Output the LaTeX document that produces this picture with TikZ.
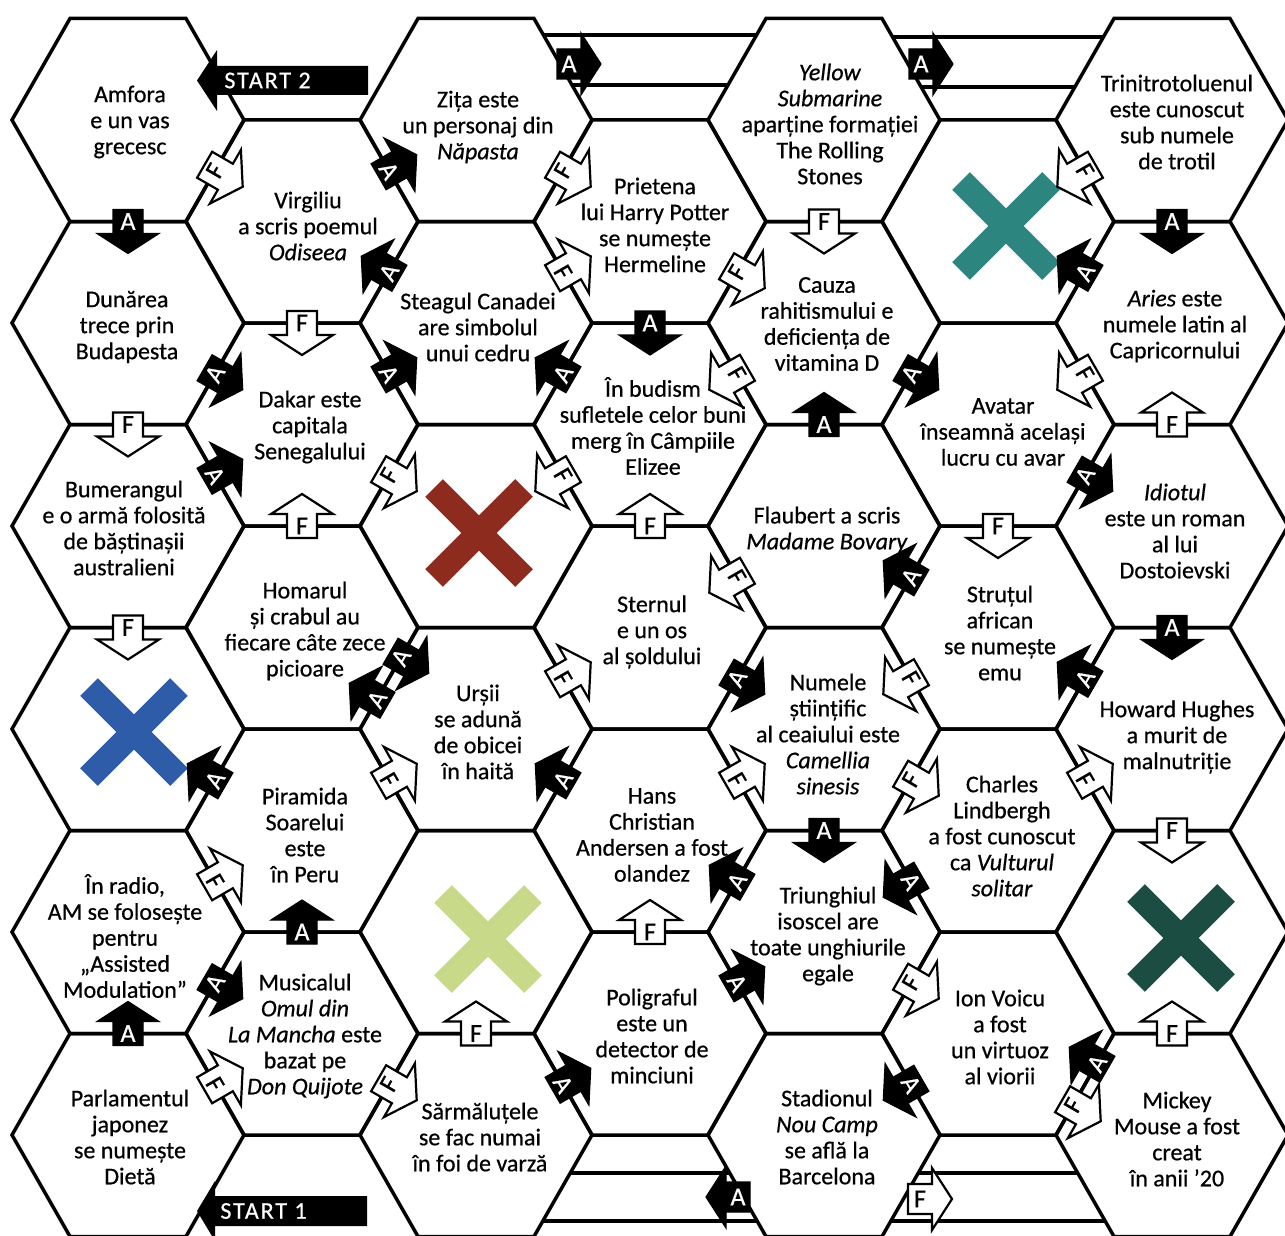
\documentclass[tikz,border=0pt]{standalone}
\usepackage{fontspec}
\setmainfont{Carlito}[FakeBold=0.6]
\usetikzlibrary{calc}
\definecolor{xblue}{HTML}{2F5CA8}
\definecolor{xred}{HTML}{8E2B1F}
\definecolor{xlime}{HTML}{C8D98A}
\definecolor{xteal}{HTML}{2D8580}
\definecolor{xdkgreen}{HTML}{1B4D42}
\tikzset{
 hexline/.style={draw=black, line width=1.75pt, line join=miter},
 bridgeline/.style={draw=black, line width=1.6pt},
 Abox/.style={fill=black, draw=black, line width=0.6pt},
 Fbox/.style={fill=white, draw=black, line width=1.1pt},
 Alet/.style={text=white, font=\fontsize{13}{13}\selectfont, inner sep=0pt},
 Flet/.style={text=black, font=\fontsize{13}{13}\selectfont, inner sep=0pt},
 qtext/.style={align=center, font=\fontsize{12}{13}\selectfont, inner sep=0pt},
 xbar/.style={line width=12.5pt, line cap=butt},
 startarr/.style={fill=black},
 starttext/.style={text=white, font=\fontsize{12}{12}\selectfont\addfontfeature{LetterSpace=8}, inner sep=0pt, anchor=west},
}
\newcommand\hexat[1]{\draw[hexline] ($(#1)+(116,0)$) -- ++(-58,-101.5) -- ++(-116,0) -- ++(-58,101.5) -- ++(58,101.5) -- ++(116,0) -- cycle;}
\newcommand\tfarrow[5]{%
 \begin{scope}[shift={#3}, rotate=#4]
  \path[#1box] (-12,-15) -- (12,-15) -- (12,-31) -- (32,0) -- (12,31) -- (12,15) -- (-12,15) -- cycle;
 \end{scope}
 \node[#1let, rotate=#5] (#2) at #3 {#1};
}
\newcommand\bigx[2]{%
 \draw[xbar,#2] ($(#1)+(-45,-45)$) -- ($(#1)+(45,45)$);
 \draw[xbar,#2] ($(#1)+(-45,45)$) -- ($(#1)+(45,-45)$);
}
\begin{document}
\begin{tikzpicture}[x=0.5pt,y=-0.5pt]
\useasboundingbox (0,0) rectangle (1285,1236);
\clip (0,0) rectangle (1285,1236);
\fill[white] (0,0) rectangle (1285,1236);
% hex centres
\foreach \c/\x in {0/128,2/476,4/824,6/1172}{
  \foreach \r/\y in {0/120,1/323,2/526,3/729,4/932,5/1135}{
    \coordinate (h\c\r) at (\x,\y);
    \hexat{h\c\r}
  }
}
\foreach \c/\x in {1/302,3/650,5/998}{
  \foreach \r/\y in {0/221.5,1/424.5,2/627.5,3/830.5,4/1033.5}{
    \coordinate (h\c\r) at (\x,\y);
    \hexat{h\c\r}
  }
}
% bridges
\draw[bridgeline] (543.4,35) -- (756.6,35);
\draw[bridgeline] (572,85) -- (728,85);
\draw[bridgeline] (892.6,37) -- (1103.4,37);
\draw[bridgeline] (921,87) -- (1075,87);
\draw[bridgeline] (570.3,1173) -- (729.7,1173);
\draw[bridgeline] (542.9,1221) -- (757.1,1221);
\draw[bridgeline] (918.3,1173) -- (1077.7,1173);
\draw[bridgeline] (890.9,1221) -- (1105.1,1221);
% crosses
\coordinate (xb) at (134,732);
\coordinate (xr) at (479,533);
\coordinate (xl) at (488,939);
\coordinate (xt) at (1006,226);
\coordinate (xd) at (1181,938);
\bigx{xb}{xblue}
\bigx{xr}{xred}
\bigx{xl}{xlime}
\bigx{xt}{xteal}
\bigx{xd}{xdkgreen}
% texts
\node[qtext] (t00) at (130,122) {Amfora\\e un vas\\grecesc};
\node[qtext] (t10) at (308,226) {Virgiliu\\a scris poemul\\\textit{Odiseea}};
\node[qtext] (t20) at (478,127) {Zița este\\un personaj din\\\textit{Năpasta}};
\node[qtext] (t30) at (655,225) {Prietena\\lui Harry Potter\\se numește\\Hermeline};
\node[qtext] (t40) at (830,124) {\textit{Yellow}\\\textit{Submarine}\\aparține formației\\The Rolling\\Stones};
\node[qtext] (t60) at (1177,122) {Trinitrotoluenul\\este cunoscut\\sub numele\\de trotil};
\node[qtext] (t01) at (127,327) {Dunărea\\trece prin\\Budapesta};
\node[qtext] (t11) at (310,427) {Dakar este\\capitala\\Senegalului};
\node[qtext] (t21) at (478,327) {Steagul Canadei\\are simbolul\\unui cedru};
\node[qtext] (t31) at (653,426) {În budism\\sufletele celor buni\\merg în Câmpiile\\Elizee};
\node[qtext] (t41) at (827,324) {Cauza\\rahitismului e\\deficiența de\\vitamina D};
\node[qtext] (t51) at (1003,432) {Avatar\\înseamnă același\\lucru cu avar};
\node[qtext] (t61) at (1175,326) {\textit{Aries} este\\numele latin al\\Capricornului};
\node[qtext] (t02) at (124,528) {Bumerangul\\e o armă folosită\\de băștinașii\\australieni};
\node[qtext] (t12) at (305,631) {Homarul\\și crabul au\\fiecare câte zece\\picioare};
\node[qtext] (t32) at (652,632) {Sternul\\e un os\\al șoldului};
\node[qtext] (t42) at (827,530) {Flaubert a scris\\\textit{Madame Bovary}};
\node[qtext] (t52) at (1000,633) {Struțul\\african\\se numește\\emu};
\node[qtext] (t62) at (1175,531) {\textit{Idiotul}\\este un roman\\al lui\\Dostoievski};
\node[qtext] (t23) at (478,732) {Urșii\\se adună\\de obicei\\în haită};
\node[qtext] (t43) at (828,734) {Numele\\științific\\al ceaiului este\\\textit{Camellia}\\\textit{sinesis}};
\node[qtext] (t63) at (1177,737) {Howard Hughes\\a murit de\\malnutriție};
\node[qtext] (t13) at (305,835) {Piramida\\Soarelui\\este\\în Peru};
\node[qtext] (t33) at (652,835) {Hans\\Christian\\Andersen a fost\\olandez};
\node[qtext] (t53) at (1002,836) {Charles\\Lindbergh\\a fost cunoscut\\ca \textit{Vulturul}\\\textit{solitar}};
\node[qtext] (t04) at (125,936) {În radio,\\AM se folosește\\pentru\\„Assisted\\Modulation”};
\node[qtext] (t44) at (828,936) {Triunghiul\\isoscel are\\toate unghiurile\\egale};
\node[qtext] (t14) at (305,1036) {Musicalul\\\textit{Omul din}\\\textit{La Mancha} este\\bazat pe\\\textit{Don Quijote}};
\node[qtext] (t34) at (652,1036) {Poligraful\\este un\\detector de\\minciuni};
\node[qtext] (t54) at (1000,1037) {Ion Voicu\\a fost\\un virtuoz\\al viorii};
\node[qtext] (t05) at (130,1137) {Parlamentul\\japonez\\se numește\\Dietă};
\node[qtext] (t25) at (480,1137) {Sărmăluțele\\se fac numai\\în foi de varză};
\node[qtext] (t45) at (827,1137) {Stadionul\\\textit{Nou Camp}\\se află la\\Barcelona};
\node[qtext] (t65) at (1177,1139) {Mickey\\Mouse a fost\\creat\\în anii ’20};
% arrows
\tfarrow{A}{a1}{($(h00)!.5!(h01)$)}{270}{0}
\tfarrow{F}{a2}{($(h00)!.5!(h10)$)}{330}{60}
\tfarrow{A}{a3}{($(h10)!.5!(h20)$)}{30}{-60}
\tfarrow{A}{a4}{($(h21)!.5!(h10)$)}{150}{60}
\tfarrow{F}{a5}{($(h10)!.5!(h11)$)}{270}{0}
\tfarrow{A}{a6}{($(h01)!.5!(h11)$)}{330}{60}
\tfarrow{F}{a7}{($(h01)!.5!(h02)$)}{270}{0}
\tfarrow{A}{a8}{($(h02)!.5!(h11)$)}{30}{-60}
\tfarrow{F}{a9}{($(h02)!.5!(h03)$)}{270}{0}
\tfarrow{A}{a10}{($(h11)!.5!(h21)$)}{30}{-60}
\tfarrow{F}{a11}{($(h11)!.5!(h22)$)}{330}{60}
\tfarrow{F}{a12}{($(h12)!.5!(h11)$)}{90}{0}
\tfarrow{F}{a13}{($(h20)!.5!(h30)$)}{330}{60}
\tfarrow{F}{a14}{($(h21)!.5!(h30)$)}{30}{-60}
\tfarrow{A}{a15}{($(h30)!.5!(h31)$)}{270}{0}
\tfarrow{F}{a16}{($(h30)!.5!(h41)$)}{330}{60}
\tfarrow{A}{a17}{($(h31)!.5!(h21)$)}{150}{60}
\tfarrow{F}{a18}{($(h31)!.5!(h22)$)}{210}{-60}
\tfarrow{F}{a19}{($(h32)!.5!(h31)$)}{90}{0}
\tfarrow{F}{a20}{($(h40)!.5!(h41)$)}{270}{0}
\tfarrow{F}{a21}{($(h41)!.5!(h31)$)}{210}{-60}
\tfarrow{A}{a22}{($(h41)!.5!(h51)$)}{330}{60}
\tfarrow{A}{a23}{($(h42)!.5!(h41)$)}{90}{0}
\tfarrow{F}{a24}{($(h42)!.5!(h32)$)}{210}{-60}
\tfarrow{A}{a25}{($(h52)!.5!(h42)$)}{150}{60}
\tfarrow{F}{a26}{($(h60)!.5!(h50)$)}{210}{-60}
\tfarrow{A}{a27}{($(h60)!.5!(h61)$)}{270}{0}
\tfarrow{A}{a28}{($(h61)!.5!(h50)$)}{150}{60}
\tfarrow{F}{a29}{($(h61)!.5!(h51)$)}{210}{-60}
\tfarrow{F}{a30}{($(h62)!.5!(h61)$)}{90}{0}
\tfarrow{A}{a31}{($(h51)!.5!(h62)$)}{330}{60}
\tfarrow{F}{a32}{($(h51)!.5!(h52)$)}{270}{0}
\tfarrow{A}{a33}{($(h62)!.5!(h63)$)}{270}{0}
\tfarrow{A}{a34}{($(h12)!.5!(h23)+(12,-21)$)}{330}{60}
\tfarrow{A}{a35}{($(h23)!.5!(h12)+(-12,21)$)}{150}{60}
\tfarrow{F}{a36}{($(h23)!.5!(h32)$)}{30}{-60}
\tfarrow{F}{a37}{($(h13)!.5!(h23)$)}{30}{-60}
\tfarrow{A}{a38}{($(h13)!.5!(h03)$)}{150}{60}
\tfarrow{F}{a39}{($(h04)!.5!(h13)$)}{30}{-60}
\tfarrow{A}{a40}{($(h04)!.5!(h14)$)}{330}{60}
\tfarrow{A}{a41}{($(h05)!.5!(h04)$)}{90}{0}
\tfarrow{F}{a42}{($(h05)!.5!(h14)$)}{30}{-60}
\tfarrow{A}{a43}{($(h14)!.5!(h13)$)}{90}{0}
\tfarrow{F}{a44}{($(h14)!.5!(h25)$)}{330}{60}
\tfarrow{F}{a45}{($(h25)!.5!(h24)$)}{90}{0}
\tfarrow{A}{a46}{($(h25)!.5!(h34)$)}{30}{-60}
\tfarrow{A}{a47}{($(h33)!.5!(h23)$)}{150}{60}
\tfarrow{F}{a48}{($(h33)!.5!(h43)$)}{30}{-60}
\tfarrow{A}{a49}{($(h32)!.5!(h43)$)}{330}{60}
\tfarrow{F}{a50}{($(h34)!.5!(h33)$)}{90}{0}
\tfarrow{A}{a51}{($(h34)!.5!(h44)$)}{30}{-60}
\tfarrow{A}{a52}{($(h44)!.5!(h33)$)}{150}{60}
\tfarrow{A}{a53}{($(h43)!.5!(h44)$)}{270}{0}
\tfarrow{F}{a54}{($(h52)!.5!(h43)$)}{210}{-60}
\tfarrow{F}{a55}{($(h43)!.5!(h53)$)}{330}{60}
\tfarrow{A}{a56}{($(h63)!.5!(h52)$)}{150}{60}
\tfarrow{F}{a57}{($(h53)!.5!(h63)$)}{30}{-60}
\tfarrow{F}{a58}{($(h63)!.5!(h64)$)}{270}{0}
\tfarrow{A}{a59}{($(h53)!.5!(h44)$)}{210}{-60}
\tfarrow{F}{a60}{($(h44)!.5!(h54)$)}{330}{60}
\tfarrow{A}{a61}{($(h54)!.5!(h45)$)}{210}{-60}
\tfarrow{A}{a62}{($(h65)!.5!(h54)+(12,-21)$)}{150}{60}
\tfarrow{F}{a63}{($(h54)!.5!(h65)+(-12,21)$)}{330}{60}
\tfarrow{F}{a64}{($(h65)!.5!(h64)$)}{90}{0}
% bridge arrows
\coordinate (bz) at (569,64);
\coordinate (by) at (921,64);
\coordinate (bs) at (738,1197);
\coordinate (bm) at (920,1199);
\tfarrow{A}{b1}{(bz)}{0}{0}
\tfarrow{A}{b2}{(by)}{0}{0}
\tfarrow{A}{b3}{(bs)}{180}{0}
\tfarrow{F}{b4}{(bm)}{0}{0}
% start arrows
\fill[startarr] (368,66) -- (217,66) -- (217,50) -- (197,80.5) -- (217,111) -- (217,95) -- (368,95) -- cycle;
\node[starttext] (start2) at (224,80.5) {START 2};
\fill[startarr] (367,1196) -- (215,1196) -- (215,1181) -- (197,1211) -- (215,1241) -- (215,1226) -- (367,1226) -- cycle;
\node[starttext] (start1) at (220,1211) {START 1};
\end{tikzpicture}
\end{document}
